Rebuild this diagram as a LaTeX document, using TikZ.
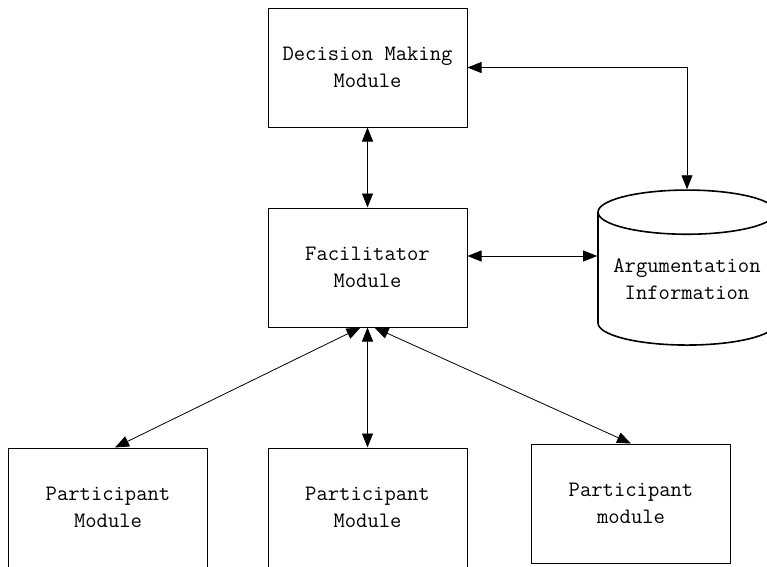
\documentclass[tikz,border=0pt]{standalone}
\usetikzlibrary{shapes.geometric,arrows.meta,positioning}
\tikzset{
	modul/.style={draw,line width=1pt,minimum width=199pt,minimum height=119pt,inner sep=0pt,align=center,font=\fontsize{22}{27}\selectfont\ttfamily},
	speicher/.style={draw,line width=1.6pt,cylinder,shape border rotate=90,aspect=0.3,minimum width=178pt,minimum height=155pt,inner sep=0pt,align=center,font=\fontsize{22}{27}\selectfont\ttfamily},
	pfeil/.style={{Triangle[length=14pt,width=11pt]}-{Triangle[length=14pt,width=11pt]},line width=0.8pt},
}
\begin{document}
\begin{tikzpicture}[x=1pt,y=-1pt]
	\clip (0,0) rectangle (767,566);

	% Module oben
	\node[modul] (dec) at (367.5,67.5) {Decision Making\\Module};
	\node[modul] (fac) at (367.5,267.5) {Facilitator\\Module};

	% Datenspeicher
	\node[speicher] (arg) at (687,279) {Argumentation\\Information};

	% Teilnehmer
	\node[modul] (p1) at (108,507.5) {Participant\\Module};
	\node[modul] (p2) at (367.5,507.5) {Participant\\Module};
	\node[modul] (p3) at (631,503.5) {Participant\\module};

	% Verbindungen
	\draw[pfeil] (dec.south) -- (fac.north);
	\draw[pfeil] (dec.east) -| (arg.north);
	\draw[pfeil] (fac.east |- 0,256) -- (arg.west |- 0,256);
	\draw[pfeil] ([xshift=-7pt]fac.south) -- ([xshift=7pt]p1.north);
	\draw[pfeil] (fac.south) -- (p2.north);
	\draw[pfeil] ([xshift=7pt]fac.south) -- (p3.north);

\end{tikzpicture}
\end{document}
